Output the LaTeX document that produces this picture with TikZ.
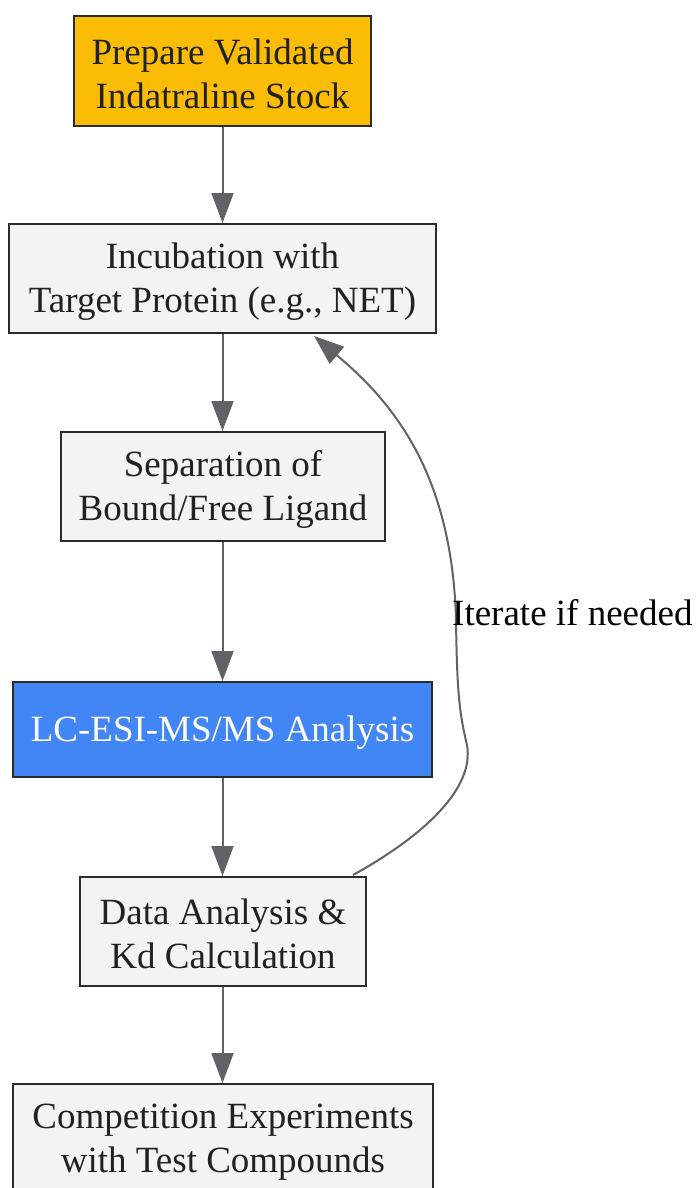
\documentclass[tikz,border=0pt]{standalone}
\usepackage{fontspec}
\setmainfont{Liberation Serif}
\usetikzlibrary{arrows.meta,calc}
\definecolor{ylw}{HTML}{FBBC05}
\definecolor{blu}{HTML}{4285F4}
\definecolor{gry}{HTML}{F1F3F4}
\definecolor{edg}{HTML}{2B2B2B}
\definecolor{lnk}{HTML}{5F6368}
\definecolor{txt}{HTML}{202124}
\newcommand\tstrut{\rule{0pt}{31pt}}
\tikzset{
  box/.style={draw=edg, line width=2pt, fill=gry, text=txt, align=center, inner sep=0pt,
    font=\fontsize{37}{44}\selectfont},
  arr/.style={draw=lnk, line width=2pt, -{Triangle[length=30pt,width=22pt]}},
}
\begin{document}
\begin{tikzpicture}[x=1pt,y=1pt]
\useasboundingbox (0,0) rectangle (697,-1188);
\node[box, fill=ylw, minimum width=297pt, minimum height=110pt] (P) at (222.5,-71) {\tstrut Prepare Validated\\Indatraline Stock};
\node[box, minimum width=427pt, minimum height=109pt] (I) at (222.5,-278.5) {\tstrut Incubation with\\Target Protein (e.g., NET)};
\node[box, minimum width=324pt, minimum height=109pt] (S) at (223,-486.5) {\tstrut Separation of\\Bound/Free Ligand};
\node[box, fill=blu, text=white, minimum width=419pt, minimum height=95pt] (L) at (222.5,-729.5) {\tstrut LC-ESI-MS/MS Analysis};
\node[box, minimum width=286pt, minimum height=109pt] (D) at (223,-931.5) {\tstrut Data Analysis \&\\Kd Calculation};
\node[box, minimum width=420pt, minimum height=109pt] (C) at (223,-1138.5) {\tstrut Competition Experiments\\with Test Compounds};
\draw[arr] (P.south -| 222.5,0) -- (I.north -| 222.5,0);
\draw[arr] (I.south -| 222.5,0) -- (S.north -| 222.5,0);
\draw[arr] (S.south -| 222.5,0) -- (L.north -| 222.5,0);
\draw[arr] (L.south -| 222.5,0) -- (D.north -| 222.5,0);
\draw[arr] (D.south -| 222.5,0) -- (C.north -| 222.5,0);
\coordinate (b1) at (467,-745);
\coordinate (b2) at (456,-620);
\draw[arr] ($(D.north)+(130,1)$) .. controls (420,-838) and (475,-790) .. (b1)
  .. controls (459,-712) and (457,-690) .. (b2)
  .. controls (452,-470) and (390,-400) .. ($(I.south)+(91.5,-2)$);
\node[anchor=west, text=black, inner sep=0pt, font=\fontsize{37}{44}\selectfont] (T) at (452,-613) {Iterate if needed};
\end{tikzpicture}
\end{document}
